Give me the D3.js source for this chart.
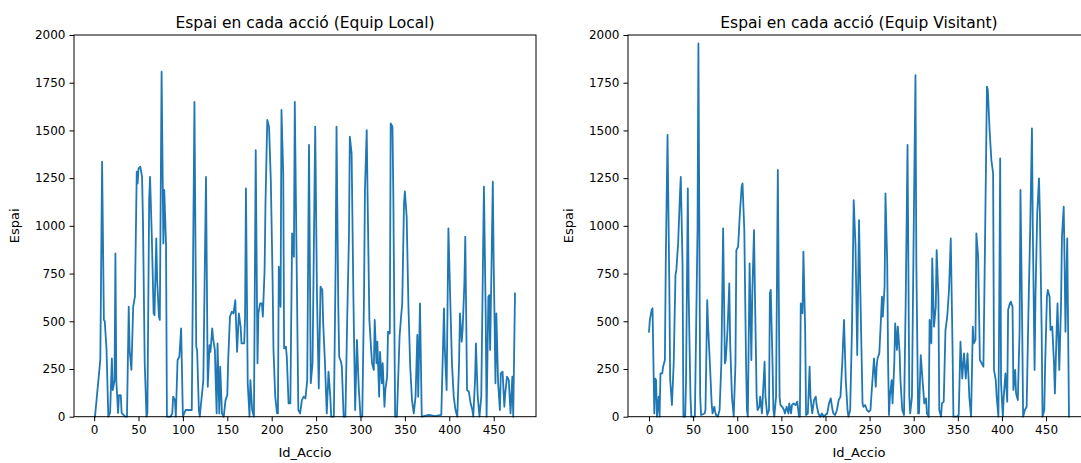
<!DOCTYPE html>
<html>
<head>
<meta charset="utf-8">
<script src="https://cdn.jsdelivr.net/npm/d3@7"></script>
<style>
  body { margin: 0; background: #fff; }
  svg text { font-family: "DejaVu Sans", sans-serif; fill: #000; }
</style>
</head>
<body>
<svg id="chart" width="1081" height="463"></svg>
<script>
// Equip Local: Id_Accio and Espai
var localIds = [1,7,9,11,12,14,16,18,20,21,23,24,25,27,28,30,31,33,35,37,39,40,42,44,46,48,49,50,52,54,55,57,59,60,62,63,65,67,68,70,71,73,74,76,78,79,81,82,86,88,89,91,92,94,96,98,
  100,103,110,113,115,116,118,119,123,126,128,130,131,133,134,136,137,138,139,141,142,144,146,148,150,151,153,155,157,159,161,163,165,166,169,170,171,173,175,176,178,180,182,184,185,187,189,190,192,193,195,197,199,
  201,202,204,206,207,208,210,211,213,214,216,217,219,221,223,225,226,228,230,232,234,236,238,240,242,244,246,249,251,253,255,257,258,260,262,264,266,267,270,272,273,275,276,278,279,281,283,285,287,288,290,292,294,296,298,
  300,302,304,305,307,308,310,312,313,315,316,318,319,321,322,324,325,327,328,330,331,333,334,336,337,339,341,343,344,346,347,349,350,352,354,356,358,360,362,364,365,367,369,377,384,391,394,395,397,399,
  401,403,405,407,409,411,412,414,415,417,418,420,422,424,426,427,429,430,432,434,436,439,441,442,444,445,446,447,449,450,452,453,455,457,458,460,462,463,465,467,469,471,472,474];
var localEspai = [0,300,1336,507,500,350,0,20,305,140,190,855,190,20,113,113,20,10,0,0,576,350,245,576,630,1284,1222,1300,1310,1257,1030,280,0,17,1135,1257,943,541,532,934,716,524,507,1808,908,1188,900,0,0,17,105,87,0,297,314,463,
  0,35,35,1650,367,350,35,0,192,1257,157,375,340,463,410,350,175,17,384,17,262,17,0,87,113,297,524,550,541,611,340,541,472,384,384,524,1196,175,0,192,35,0,1397,280,541,594,594,524,769,1118,1555,1520,1240,
  716,350,105,17,17,786,576,1607,1275,358,367,314,70,70,960,838,1650,838,35,17,87,105,96,192,1424,175,280,1520,629,148,681,664,489,280,17,236,105,0,0,803,1520,576,314,288,262,0,0,507,943,1467,1380,629,35,402,157,
  0,0,646,1188,1502,1153,507,350,280,245,507,280,393,105,340,175,280,52,140,210,445,436,1537,1520,1153,0,0,280,420,541,594,1118,1180,1048,576,262,87,17,105,428,105,594,0,9,3,9,568,350,140,987,
  629,280,105,35,0,280,541,393,454,699,943,140,131,70,35,0,192,384,105,0,105,1205,541,0,629,637,350,629,1231,804,175,541,175,35,227,236,52,122,210,192,17,210,0,646];

// Equip Visitant: Id_Accio and Espai
var visitIds = [0,1,3,4,6,7,8,9,11,12,13,15,16,18,19,21,23,24,26,28,30,31,33,35,36,38,39,41,42,44,45,47,48,52,55,56,58,59,63,64,66,67,69,71,72,74,75,76,78,80,82,84,86,87,89,91,92,94,96,98,99,
  101,103,105,106,108,110,111,112,114,116,117,119,120,122,123,125,126,128,129,131,132,134,136,137,138,140,141,142,144,146,148,149,151,153,154,156,158,159,161,162,164,166,168,170,171,172,174,175,177,178,180,182,183,185,187,189,190,192,194,196,198,
  200,202,204,206,208,209,211,213,215,217,219,221,223,225,226,228,230,232,234,236,238,240,242,243,245,247,249,251,253,255,257,258,259,261,263,264,265,267,268,270,271,272,273,275,276,278,279,281,282,284,285,287,289,291,293,295,296,298,
  300,302,303,305,306,308,310,312,314,315,317,318,320,321,323,325,326,328,329,331,332,334,336,338,340,342,344,345,349,351,353,355,357,359,361,363,365,367,368,370,371,373,375,377,379,381,383,384,386,388,390,391,393,394,396,397,398,399,
  401,402,404,406,407,409,410,412,413,415,416,418,420,421,423,424,426,428,430,432,434,435,437,438,440,442,443,445,446,448,449,451,452,454,455,457,459,460,462,463,465,467,468,470,471,472,474,475,476];
var visitEspai = [445,507,559,568,17,200,192,0,105,0,227,227,262,297,803,1476,699,192,61,280,742,769,908,1153,1257,803,0,0,192,1196,629,105,0,0,978,1956,105,9,17,35,611,472,280,70,17,52,26,9,0,35,280,987,280,297,454,699,384,105,0,280,873,
  891,1066,1205,1222,978,280,35,0,803,297,629,978,664,105,35,52,105,17,105,288,105,9,35,646,664,280,35,0,105,1293,105,61,52,35,17,52,17,70,17,61,70,61,79,0,0,594,541,865,454,9,17,262,105,17,87,105,61,17,0,17,0,
  9,17,70,96,35,17,9,35,87,105,280,507,192,35,0,35,454,1135,900,323,1030,541,70,52,61,35,26,35,175,305,157,262,305,332,524,629,524,681,1170,803,280,9,105,192,70,280,489,350,472,340,192,35,9,629,1424,105,17,105,
  978,1790,803,17,17,323,192,70,96,17,0,507,384,830,472,576,873,629,35,0,70,79,454,524,664,934,367,0,0,9,393,200,332,200,332,105,0,472,384,402,961,838,297,280,262,978,1730,1712,1502,1345,1275,245,192,105,0,629,1354,175,
  0,105,227,79,559,594,603,576,140,245,122,87,454,1188,454,0,35,52,541,978,1511,978,245,629,1066,1249,1066,454,0,35,280,629,664,629,454,472,280,122,454,594,245,594,943,1100,803,445,934,454,0];

var xTicks = [0, 50, 100, 150, 200, 250, 300, 350, 400, 450];
var yTicks = [0, 250, 500, 750, 1000, 1250, 1500, 1750, 2000];
var titles = ["Espai en cada acció (Equip Local)", "Espai en cada acció (Equip Visitant)"];

window.addEventListener("load", makeCharts);
function makeCharts() {
    var svg = d3.select("#chart");
    drawPanel(svg, 74, localIds, localEspai, titles[0]);
    drawPanel(svg, 628, visitIds, visitEspai, titles[1]);
}

function drawPanel(svg, left, ids, vals, title) {
    var w = 462, top = 35, bottom = 416.7;
    // matplotlib style 5% margin on x
    var lo = d3.min(ids), hi = d3.max(ids), pad = (hi - lo) * 0.05;
    var scX = d3.scaleLinear().domain([lo - pad, hi + pad]).range([left, left + w]),
        scY = d3.scaleLinear().domain([0, 2000]).range([bottom, top]);

    var g = svg.append("g");

    var line = d3.line().x((d, i) => scX(ids[i])).y(d => scY(d));
    g.append("path").datum(vals)
        .attr("d", line).attr("fill", "none")
        .attr("stroke", "#1f77b4").attr("stroke-width", 1.8)
        .attr("stroke-linejoin", "round").attr("stroke-linecap", "square");

    g.append("rect")
        .attr("x", left).attr("y", top).attr("width", w).attr("height", bottom - top)
        .attr("fill", "none").attr("stroke", "#000").attr("stroke-width", 1);

    var ax = g.append("g").attr("transform", "translate(0," + bottom + ")")
        .call(d3.axisBottom(scX).tickValues(xTicks).tickFormat(d3.format("d"))
            .tickSize(4.5).tickPadding(4));
    var ay = g.append("g").attr("transform", "translate(" + left + ",0)")
        .call(d3.axisLeft(scY).tickValues(yTicks).tickFormat(d3.format("d"))
            .tickSize(4.5).tickPadding(4));
    [ax, ay].forEach(a => {
        a.select(".domain").remove();
        a.selectAll("text").attr("font-size", 12).attr("font-family", "DejaVu Sans").attr("fill", "#000");
        a.selectAll("line").attr("stroke", "#000");
    });

    g.append("text").attr("x", left + w / 2).attr("y", 28)
        .attr("text-anchor", "middle").attr("font-size", 15.5).text(title);
    g.append("text").attr("x", left + w / 2).attr("y", 457)
        .attr("text-anchor", "middle").attr("font-size", 13).text("Id_Accio");
    g.append("text").attr("transform", "translate(" + (left - 55) + "," + (top + bottom) / 2 + ") rotate(-90)")
        .attr("text-anchor", "middle").attr("font-size", 13).text("Espai");
}
</script>
</body>
</html>
